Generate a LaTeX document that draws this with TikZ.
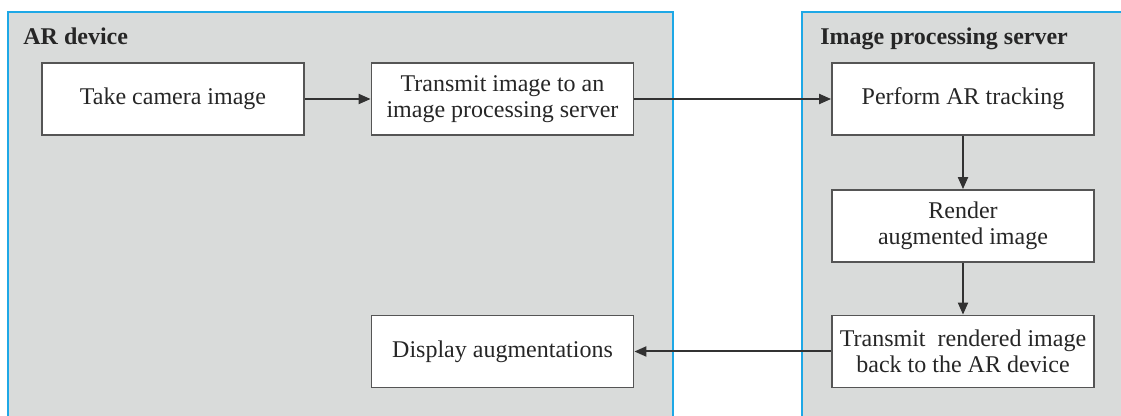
\documentclass[tikz,border=0pt]{standalone}
\usepackage{fontspec}
\setmainfont{Liberation Serif}
\usetikzlibrary{arrows.meta}
\definecolor{panelgray}{RGB}{217,219,218}
\definecolor{panelblue}{RGB}{30,168,230}
\definecolor{inkgray}{RGB}{50,50,50}
\definecolor{boxgray}{RGB}{85,85,85}

\begin{document}
\begin{tikzpicture}[
    x=0.5pt, y=-0.5pt,
    font=\fontsize{12}{13}\selectfont,
    panel/.style={rectangle, fill=panelgray, draw=panelblue, line width=0.7pt, inner sep=0pt},
    box/.style={rectangle, draw=boxgray, fill=white, line width=0.9pt, minimum width=131pt, minimum height=36pt, align=center, inner sep=2pt, text=black!85},
    title/.style={anchor=base west, inner sep=0pt, font=\fontsize{12}{13}\selectfont\bfseries, text=black!85},
    arrow/.style={-{Triangle[length=6pt,width=5pt]}, draw=inkgray, line width=1pt}
]

% Canvas
\useasboundingbox (0,0) rectangle (1121,416);
\clip (0,0) rectangle (1121,416);

% Panels
\node[panel, minimum width=332.5pt, minimum height=209pt] (device) at (340.5, 221) {};
\node[panel, minimum width=166.5pt, minimum height=209pt] (server) at (968.5, 221) {};
\node[title] (devicetitle) at (23, 45) {AR device};
\node[title] (servertitle) at (820, 45) {Image processing server};

% AR device steps
\node[box] (take) at (173, 99) {Take camera image};
\node[box] (send) at (502.5, 99) {Transmit image to an\\image processing server};
\node[box] (show) at (502.5, 351.5) {Display augmentations};

% Server steps
\node[box] (track) at (963, 99) {Perform AR tracking};
\node[box] (render) at (963, 226) {Render\\augmented image};
\node[box] (back) at (963, 351.5) {Transmit~ rendered image\\back to the AR device};

% Flow
\draw[arrow] (take) -- (send);
\draw[arrow] (send) -- (track);
\draw[arrow] (track) -- (render);
\draw[arrow] (render) -- (back);
\draw[arrow] (back) -- (show);

\end{tikzpicture}
\end{document}
